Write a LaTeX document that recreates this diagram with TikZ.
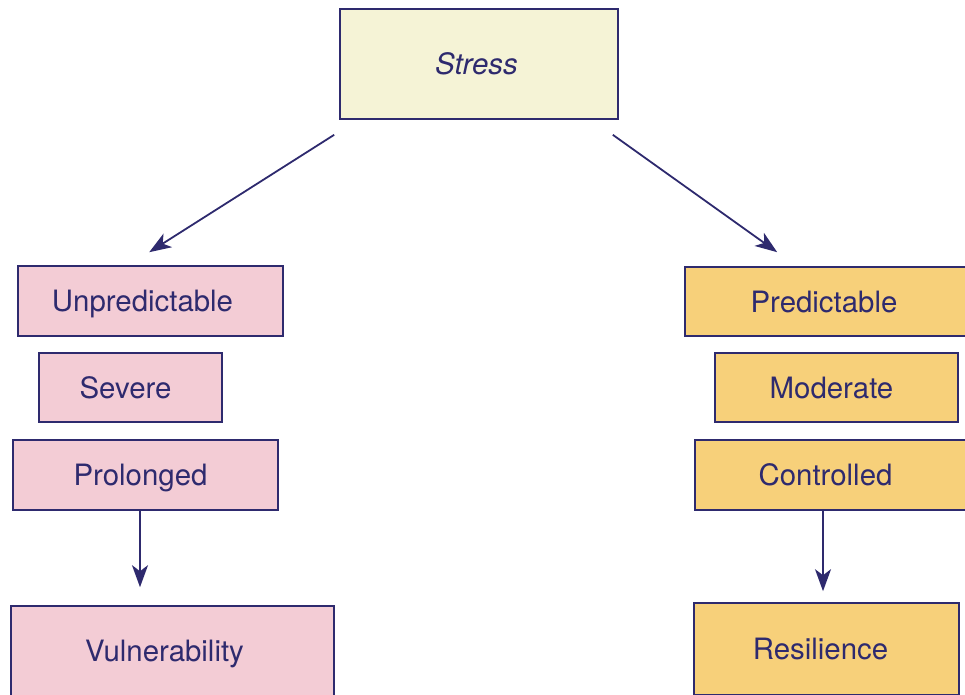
\documentclass[tikz,border=0pt]{standalone}
\usepackage{fontspec}
\setmainfont{TeX Gyre Heros}
\usetikzlibrary{arrows.meta,calc}
\definecolor{navy}{HTML}{2E2A6E}
\definecolor{cream}{HTML}{F5F3D6}
\definecolor{pinkfill}{HTML}{F3CCD5}
\definecolor{yellowfill}{HTML}{F7D07A}
\begin{document}
\begin{tikzpicture}[x=1pt,y=-1pt,
  box/.style={draw=navy, line width=1.6pt, inner sep=0pt},
  pinkbox/.style={box, fill=pinkfill},
  yelbox/.style={box, fill=yellowfill},
  txt/.style={text=navy, font=\fontsize{29.4}{34}\selectfont, text height=21pt, text depth=0pt, inner sep=0pt, xshift=-5pt},
  arr/.style={draw=navy, line width=1.8pt, -{Stealth[length=22pt,width=16pt,inset=6pt]}}]
\useasboundingbox (0,0) rectangle (965,694);
\clip (0,0) rectangle (965,694);
% top
\node[box, fill=cream, minimum width=278pt, minimum height=110pt,
  label={[txt, xshift=2.5pt]center:\itshape Stress}] (stress) at (479,64) {};
% left column
\node[pinkbox, minimum width=265pt, minimum height=70pt,
  label={[txt, xshift=-3pt]center:Unpredictable}] (unpred) at (150.5,301) {};
\node[pinkbox, minimum width=183pt, minimum height=69pt,
  label={[txt]center:Severe}] (severe) at (130.5,387.5) {};
\node[pinkbox, minimum width=265pt, minimum height=70pt,
  label={[txt]center:Prolonged}] (prolonged) at (145.5,475) {};
\node[pinkbox, minimum width=323pt, minimum height=90pt,
  label={[txt, xshift=-3pt]center:Vulnerability}] (vuln) at (172.5,651) {};
% right column
\node[yelbox, minimum width=288pt, minimum height=69pt,
  label={[txt]center:Predictable}] (pred) at (829,301.5) {};
\node[yelbox, minimum width=243pt, minimum height=69pt,
  label={[txt]center:Moderate}] (moderate) at (836.5,387.5) {};
\node[yelbox, minimum width=273pt, minimum height=70pt,
  label={[txt, xshift=-1pt]center:Controlled}] (controlled) at (831.5,475) {};
\node[yelbox, minimum width=265pt, minimum height=92pt,
  label={[txt, xshift=-1pt]center:Resilience}] (resil) at (826.5,649) {};
% connectors
\draw[arr] ($(stress.south west)+(-5,15)$) -- ($(unpred.north west)+(132,-13)$);
\draw[arr] ($(stress.south east)+(-6,15)$) -- ($(pred.north west)+(93,-14)$);
\draw[arr] ($(prolonged.south)+(-5.5,0)$) -- ($(vuln.north)+(-32.5,-18)$);
\draw[arr] ($(controlled.south)+(-8.5,0)$) -- ($(resil.north)+(-3.5,-11)$);
\end{tikzpicture}
\end{document}
